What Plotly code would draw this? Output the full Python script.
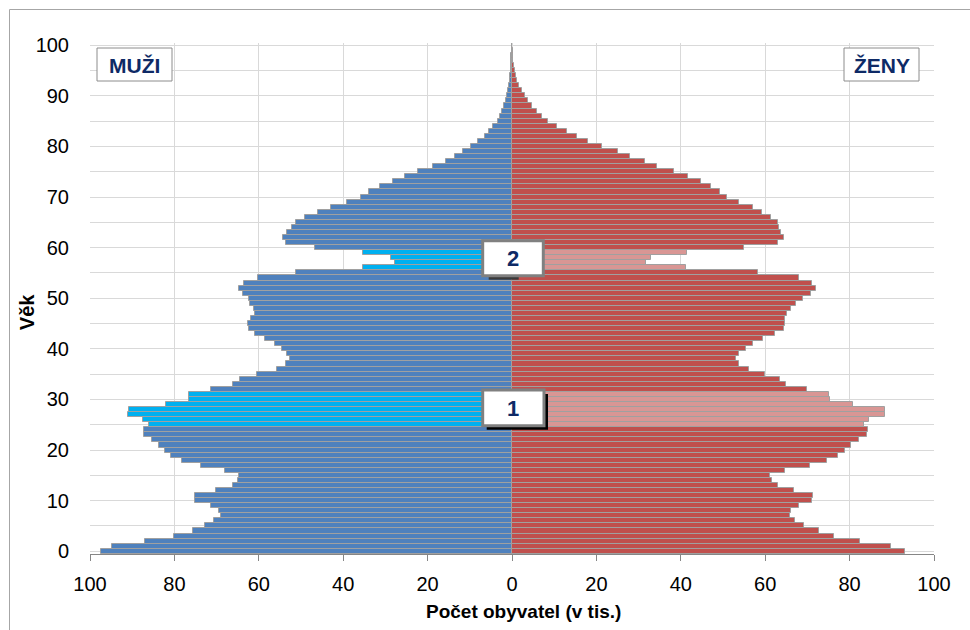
import plotly.graph_objects as go

# ---------------- data ----------------
ages = list(range(0, 101))

men = [97.5, 94.7, 87.0, 80.0, 75.6, 72.8, 70.5, 69.0, 69.4, 71.4,
       75.2, 75.2, 70.2, 66.1, 64.9, 64.7, 67.9, 73.8, 78.2, 80.9,
       82.3, 83.7, 85.3, 87.1, 87.1, 86.1, 87.5, 91.0, 90.8, 82.1,
       76.6, 76.6, 71.3, 66.1, 64.5, 60.4, 55.7, 53.6, 52.7, 53.3,
       54.5, 56.2, 58.6, 61.0, 62.4, 62.6, 61.9, 61.0, 61.2, 62.0,
       62.3, 63.7, 64.7, 63.5, 60.2, 51.1, 35.4, 27.8, 28.7, 35.3,
       46.7, 53.6, 54.3, 53.3, 52.2, 51.1, 49.0, 45.9, 43.0, 39.2,
       35.9, 33.9, 31.3, 28.2, 25.4, 22.2, 18.7, 15.7, 13.4, 11.5,
       9.6, 8.0, 6.4, 5.4, 4.4, 3.4, 2.9, 2.4, 1.9, 1.5,
       1.1, 0.9, 0.7, 0.55, 0.45, 0.35, 0.25, 0.18, 0.12, 0.08,
       0.05]

women = [93.1, 89.8, 82.4, 76.2, 72.7, 69.3, 67.1, 65.8, 66.2, 68.1,
         71.1, 71.3, 66.9, 63.0, 61.6, 61.2, 64.8, 70.5, 74.7, 77.3,
         79.0, 80.3, 82.2, 84.1, 84.4, 83.4, 84.7, 88.3, 88.5, 80.8,
         75.4, 75.2, 69.9, 65.0, 63.6, 60.0, 56.1, 53.9, 53.1, 53.9,
         55.4, 57.0, 59.4, 62.4, 64.5, 64.8, 64.8, 65.2, 66.1, 67.3,
         69.0, 70.9, 72.0, 71.1, 68.1, 58.2, 41.2, 31.7, 32.9, 41.4,
         55.0, 63.0, 64.5, 63.8, 63.3, 63.0, 61.4, 59.2, 57.0, 53.7,
         50.9, 49.3, 47.2, 44.7, 41.8, 38.5, 34.4, 31.4, 28.0, 25.1,
         21.4, 18.1, 15.3, 13.0, 10.6, 8.5, 7.2, 5.9, 4.8, 3.8,
         3.0, 2.3, 1.7, 1.2, 0.85, 0.6, 0.45, 0.3, 0.2, 0.15,
         0.1]

highlight_1 = [25, 26, 27, 28, 29, 30, 31]
highlight_2 = [56, 57, 58, 59]

x_tick_vals = [-100, -80, -60, -40, -20, 0, 20, 40, 60, 80, 100]
x_tick_text = ["100", "80", "60", "40", "20", "0", "20", "40", "60", "80", "100"]
y_tick_vals = [0, 10, 20, 30, 40, 50, 60, 70, 80, 90, 100]

label_men = "MUŽI"
label_women = "ŽENY"
x_title = "Počet obyvatel (v tis.)"
y_title = "Věk"

# ---------------- styles ----------------
MEN_C = "#4F81BD"
MEN_HL = "#00B0F0"
WOM_C = "#C0504D"
WOM_HL = "#D99694"
OUTLINE = "#A0A0A0"
GRID = "#D9D9D9"
AXIS = "#868686"
NAVY = "#0E2A66"
FONT = "Liberation Sans, Arial, sans-serif"

hl = set(highlight_1) | set(highlight_2)
men_colors = [MEN_HL if a in hl else MEN_C for a in ages]
wom_colors = [WOM_HL if a in hl else WOM_C for a in ages]

W, H = 970, 630
L, R, T, B = 90, 934, 43, 554


def px(xp):
    return (xp - L) / (R - L)


def py(yp):
    return (B - yp) / (B - T)


fig = go.Figure()
fig.add_trace(go.Bar(
    y=ages, x=[-v for v in men], orientation="h",
    marker=dict(color=men_colors, line=dict(color=OUTLINE, width=1)),
    name=label_men, hoverinfo="skip"))
fig.add_trace(go.Bar(
    y=ages, x=women, orientation="h",
    marker=dict(color=wom_colors, line=dict(color=OUTLINE, width=1)),
    name=label_women, hoverinfo="skip"))

yr = [-0.55, 100.45]

shapes = []
# outer chart border (left and top visible)
shapes.append(dict(type="rect", xref="paper", yref="paper",
                   x0=px(9.5), x1=px(990), y0=py(660), y1=py(9.5),
                   line=dict(color="#A6A6A6", width=1), fillcolor="rgba(0,0,0,0)",
                   layer="below"))
# MUŽI / ŽENY boxes
for x0, x1 in [(97, 172), (844, 919)]:
    shapes.append(dict(type="rect", xref="paper", yref="paper",
                       x0=px(x0), x1=px(x1), y0=py(81), y1=py(48),
                       line=dict(color="#8C8C8C", width=1), fillcolor="white"))
# number boxes with shadows
boxes = [(482.7, 544, 390, 425.7, "1", "#000000"),
         (482.7, 543.3, 240.7, 275.7, "2", "#3A3A3A")]
for x0, x1, y0, y1, txt, sh in boxes:
    if txt == "1":
        shapes.append(dict(type="rect", xref="paper", yref="paper",
                           x0=px(x0 + 4), x1=px(x1 + 4), y0=py(y1 + 4), y1=py(y0 + 4),
                           line=dict(width=0), fillcolor=sh))
    else:
        shapes.append(dict(type="rect", xref="paper", yref="paper",
                           x0=px(x0 + 6), x1=px(x0 + 36), y0=py(y1 + 4), y1=py(y1),
                           line=dict(width=0), fillcolor=sh))
    shapes.append(dict(type="rect", xref="paper", yref="paper",
                       x0=px(x0), x1=px(x1), y0=py(y1), y1=py(y0),
                       line=dict(color="#808080", width=3), fillcolor="white"))


def ann(text, xp, yp, size, color, angle=0):
    return dict(text=text, xref="paper", yref="paper", x=px(xp), y=py(yp),
                xanchor="center", yanchor="middle", showarrow=False,
                textangle=angle, font=dict(size=size, color=color, family=FONT))


annotations = [
    ann(f"<b>{label_men}</b>", 134.5, 65, 21, NAVY),
    ann(f"<b>{label_women}</b>", 881.5, 65, 21, NAVY),
    ann("<b>1</b>", 513.3, 408.5, 22, NAVY),
    ann("<b>2</b>", 513, 258.5, 22, NAVY),
    ann(f"<b>{x_title}</b>", 523, 612, 19, "#000000"),
    ann(f"<b>{y_title}</b>", 26.5, 312.7, 20, "#000000", -90),
]

fig.update_layout(
    width=W, height=H,
    margin=dict(l=L, r=W - R, t=T, b=H - B, pad=0),
    paper_bgcolor="white", plot_bgcolor="white",
    barmode="overlay", bargap=0,
    showlegend=False,
    font=dict(family=FONT, size=20, color="#000000"),
    xaxis=dict(range=[-100, 100], tickvals=x_tick_vals, ticktext=x_tick_text,
               showgrid=True, gridcolor=GRID, gridwidth=1, zeroline=False,
               showline=True, linecolor=AXIS, linewidth=1,
               ticks="outside", ticklen=6, tickcolor=AXIS,
               ticklabelstandoff=6,
               tickfont=dict(size=20, family=FONT)),
    yaxis=dict(range=yr, tickvals=y_tick_vals,
               showgrid=True, gridcolor=GRID, gridwidth=1, zeroline=False,
               showline=False, ticks="",
               minor=dict(dtick=5, showgrid=True, gridcolor=GRID, ticks=""),
               ticklabelstandoff=20,
               tickfont=dict(size=20, family=FONT)),
    yaxis2=dict(range=yr, overlaying="y", anchor="free", position=0.5,
                side="left", tickvals=y_tick_vals, ticks="outside", ticklen=7,
                tickcolor=AXIS, showticklabels=False, showgrid=False,
                zeroline=False, showline=True, linecolor=AXIS, linewidth=1.5),
    shapes=shapes,
    annotations=annotations,
)

fig.write_html("out.html")
